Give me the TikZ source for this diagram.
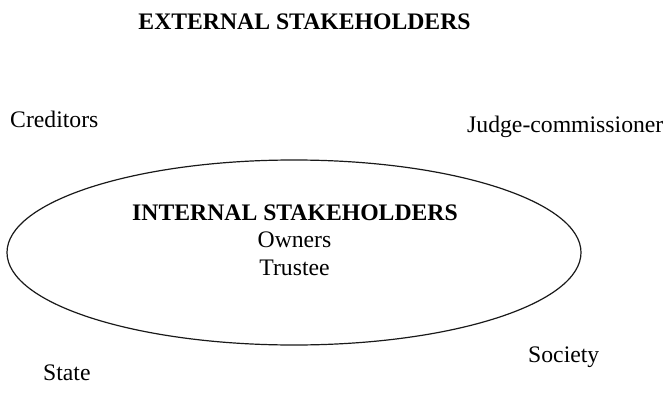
\documentclass[tikz,border=0pt]{standalone}
\usepackage{fontspec}
\setmainfont{Liberation Serif}
\begin{document}
\begin{tikzpicture}[x=1pt,y=-1pt,
  lbl/.style={inner sep=0pt,font=\fontsize{23.7}{28}\selectfont},
  head/.style={inner sep=0pt,font=\fontsize{23.7}{28}\selectfont\bfseries},
  ring/.style={draw=black!90,line width=1.2pt}]
\useasboundingbox (0,0) rectangle (668,409);
\node[head,anchor=base] (ext) at (304.5,30) {EXTERNAL STAKEHOLDERS};
\node[lbl,anchor=base west] (cred) at (10,127) {Creditors};
\node[lbl,anchor=base west] (judge) at (467,132) {Judge-commissioner};
\draw[ring] (294,252.5) ellipse [x radius=287, y radius=92.5];
\node[head,anchor=base] (int) at (295,220) {INTERNAL STAKEHOLDERS};
\node[lbl,anchor=base] (own) at (294.5,247) {Owners};
\node[lbl,anchor=base] (trus) at (294.5,275) {Trustee};
\node[lbl,anchor=base west] (state) at (43,380) {State};
\node[lbl,anchor=base west] (soc) at (528,362) {Society};
\end{tikzpicture}
\end{document}
